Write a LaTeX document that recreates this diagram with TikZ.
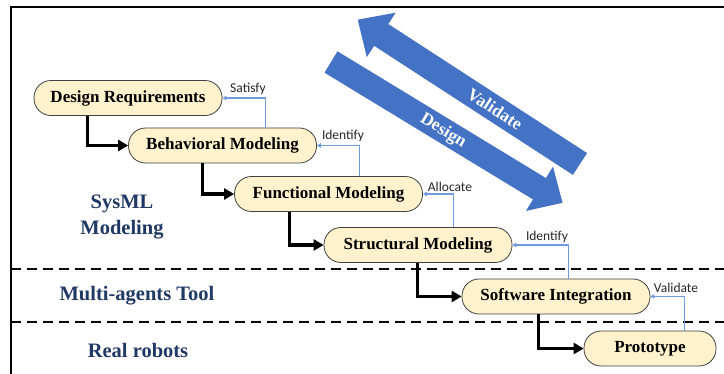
\documentclass[tikz,border=0pt]{standalone}
\usepackage{fontspec}
\setmainfont{Liberation Serif}
\newfontfamily\lblfont{Carlito}
\usetikzlibrary{calc,arrows.meta}
\definecolor{nodefill}{HTML}{FFF2CC}
\definecolor{bigblue}{HTML}{4472C4}
\definecolor{navy}{HTML}{1F3864}
\definecolor{thinblue}{HTML}{6F9BE0}
\begin{document}
\begin{tikzpicture}[x=1pt,y=-1pt,
  stage/.style={draw=black!75, fill=nodefill, rounded corners=17pt, minimum width=188pt, minimum height=35pt, inner sep=0pt, line width=0.8pt, font=\fontsize{17}{20}\selectfont\bfseries},
  blk/.style={line width=3.2pt, -{Triangle[length=10pt,width=11pt]}},
  fb/.style={draw=thinblue, line width=1.1pt, -{Triangle[length=4pt,width=4.5pt]}},
  lbl/.style={font=\lblfont\fontsize{13.5}{15}\selectfont, text=black!85, inner sep=0pt},
  side/.style={font=\fontsize{20.5}{26}\selectfont\bfseries, text=navy, align=center, inner sep=0pt},
  dashline/.style={line width=1.8pt, dash pattern=on 10pt off 6pt},
  arrtext/.style={font=\fontsize{17.5}{20}\selectfont\bfseries, text=white, inner sep=0pt}
]
\useasboundingbox (0,0) rectangle (724,374);
% frame
\draw[line width=1.3pt] (11,374) -- (11,7) -- (724,7);
% dashed separators
\draw[dashline] (11,269) -- (724,269);
\draw[dashline] (11,322) -- (724,322);
% big arrows
\begin{scope}[shift={(580,164)}, rotate=147]
  \fill[bigblue] (0,-13) -- (237,-13) -- (237,-26.5) -- (265,0) -- (237,26.5) -- (237,13) -- (0,13) -- cycle;
\end{scope}
\begin{scope}[shift={(331,62)}, rotate=-31.3]
  \fill[bigblue] (0,-12.5) -- (244,-12.5) -- (244,-26) -- (271,0) -- (244,26) -- (244,12.5) -- (0,12.5) -- cycle;
\end{scope}
\node[arrtext, rotate=-33] (tv) at (495,109) {Validate};
\node[arrtext, rotate=-31.3] (td) at (443,131) {Design};
% side labels
\node[side] (sysml) at (122,217) {SysML\\Modeling};
\node[side] (mat) at (137,296) {Multi-agents Tool};
\node[side] (rr) at (138,350) {Real robots};
% stages
\node[stage] (dr) at (128,98) {Design Requirements};
\node[stage] (bm) at (222.5,145.5) {Behavioral Modeling};
\node[stage] (fm) at (328.5,194) {Functional Modeling};
\node[stage] (sm) at (418,245) {Structural Modeling};
\node[stage] (si) at (556,296.5) {Software Integration};
\node[stage, minimum width=132pt] (pr) at (650,348.5) {Prototype};
% forward arrows
\draw[blk] ($(dr.south west)+(54,0)$) |- (bm.west);
\draw[blk] ($(bm.south west)+(74,0)$) |- (fm.west);
\draw[blk] ($(fm.south west)+(55,0)$) |- (sm.west);
\draw[blk] ($(sm.south west)+(94,0)$) |- (si.west);
\draw[blk] ($(si.south west)+(77,0)$) |- (pr.west);
% feedback arrows
\draw[fb] ($(bm.north west)+(137,0)$) |- (dr.east);
\draw[fb] ($(fm.north west)+(125,0)$) |- (bm.east);
\draw[fb] ($(sm.north west)+(130,0)$) |- (fm.east);
\draw[fb] ($(si.north west)+(107,0)$) |- (sm.east);
\draw[fb] ($(pr.north west)+(101,0)$) |- (si.east);
% feedback labels
\node[lbl] (l1) at (248,89) {Satisfy};
\node[lbl] (l2) at (343,136) {Identify};
\node[lbl] (l3) at (450,187) {Allocate};
\node[lbl] (l4) at (547,237) {Identify};
\node[lbl] (l5) at (676,288) {Validate};
\end{tikzpicture}
\end{document}
